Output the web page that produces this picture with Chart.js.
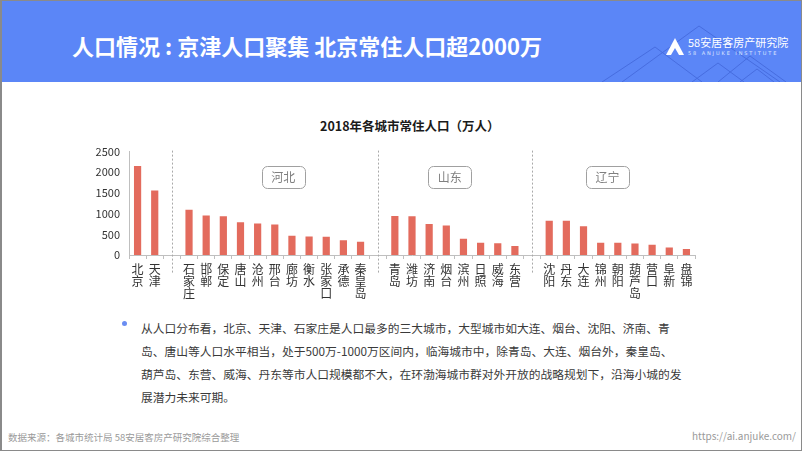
<!DOCTYPE html>
<html>
<head>
<meta charset="utf-8">
<script src="https://cdn.jsdelivr.net/npm/chart.js@4.4.1/dist/chart.umd.min.js"></script>
<style>
  html, body { margin: 0; padding: 0; }
  body { width: 802px; height: 451px; overflow: hidden; font-family: "Noto Sans CJK SC", "Noto Sans", sans-serif; }
  #page { position: relative; width: 802px; height: 451px; box-sizing: border-box; border: 1px solid #8a8a8a; border-left-width: 2px; background: #fff; overflow: hidden; }
  #header { position: absolute; left: 0; top: 0; width: 802px; height: 81px; background: #5b86f7; }
  #header h1 { position: absolute; left: 70px; top: 31px; margin: 0; font-size: 22px; line-height: 26px; font-weight: 700; color: #fff; white-space: nowrap; }
  #header svg { position: absolute; left: 0; top: 0; }
  .logo-cn { position: absolute; left: 686px; top: 35px; font-size: 11px; line-height: 13px; color: #fff; white-space: nowrap; }
  .logo-en { position: absolute; left: 686px; top: 49px; font-size: 5px; line-height: 6px; color: #dfe7ff; letter-spacing: 1.9px; white-space: nowrap; font-family: "DejaVu Sans", sans-serif; }
  #chartTitle { position: absolute; left: 318px; top: 116px; font-size: 12.5px; line-height: 18px; font-weight: 700; color: #1a1a1a; white-space: nowrap; }
  #chart { position: absolute; left: 60px; top: 135px; }
  #bullet { position: absolute; left: 120px; top: 320px; width: 5px; height: 5px; border-radius: 50%; background: #6a8df2; }
  #text { position: absolute; left: 139px; top: 315px; font-size: 11.75px; line-height: 23px; color: #3a3a3a; white-space: nowrap; }
  #source { position: absolute; left: 6px; top: 429px; font-size: 9.5px; line-height: 14px; color: #9a9a9a; white-space: nowrap; }
  #url { position: absolute; right: 5px; top: 428px; font-size: 10px; line-height: 14px; color: #9a9a9a; white-space: nowrap; }
</style>
</head>
<body>
<div id="page">
  <div id="header">
    <svg width="802" height="81">
      <g stroke="#3f63d6" stroke-width="1" fill="none" opacity="0.7">
        <polyline points="620,81 697,25 778,81"/>
        <polyline points="600,81 653,46 700,81"/>
        <polyline points="690,81 716,62 742,81"/>
        <polyline points="716,81 748,55 784,81"/>
        <polyline points="738,81 755,68 772,81"/>
      </g>
      <path d="M664,54 L673,37 L682,54 Z" fill="#fff"/>
      <path d="M669,54 L673,47 L677,54 Z" fill="#5b86f7"/>
    </svg>
    <h1>人口情况 : 京津人口聚集 北京常住人口超2000万</h1>
    <div class="logo-cn">58安居客房产研究院</div>
    <div class="logo-en">58 ANJUKE INSTITUTE</div>
  </div>
  <div id="chartTitle">2018年各城市常住人口（万人）</div>
  <canvas id="chart" width="660" height="175"></canvas>
  <div id="bullet"></div>
  <div id="text">从人口分布看，北京、天津、石家庄是人口最多的三大城市，大型城市如大连、烟台、沈阳、济南、青<br>岛、唐山等人口水平相当，处于500万-1000万区间内，临海城市中，除青岛、大连、烟台外，秦皇岛、<br>葫芦岛、东营、威海、丹东等市人口规模都不大，在环渤海城市群对外开放的战略规划下，沿海小城的发<br>展潜力未来可期。</div>
  <div id="source">数据来源：各城市统计局 58安居客房产研究院综合整理</div>
  <div id="url">https://ai.anjuke.com/</div>
</div>
<script>
const jjCities = ['北京', '天津'];
const jjPop = [2154, 1560];
const hebeiCities = ['石家庄', '邯郸', '保定', '唐山', '沧州', '邢台', '廊坊', '衡水', '张家口', '承德', '秦皇岛'];
const hebeiPop = [1095, 954, 935, 794, 760, 737, 466, 447, 443, 358, 318];
const shandongCities = ['青岛', '潍坊', '济南', '烟台', '滨州', '日照', '威海', '东营'];
const shandongPop = [943, 938, 748, 712, 395, 295, 283, 220];
const liaoningCities = ['沈阳', '丹东', '大连', '锦州', '朝阳', '葫芦岛', '营口', '阜新', '盘锦'];
const liaoningPop = [830, 830, 695, 298, 298, 276, 245, 184, 145];
const groupNames = ['河北', '山东', '辽宁'];
const yTicks = [0, 500, 1000, 1500, 2000, 2500];

const FONT = '"Noto Sans CJK SC", "Noto Sans", sans-serif';

// one empty slot between provinces, holds the dashed separator
const cityGroups = [jjCities, hebeiCities, shandongCities, liaoningCities];
const popGroups = [jjPop, hebeiPop, shandongPop, liaoningPop];
const labels = [];
const values = [];
const gapIndex = [];
const groupRange = [];
cityGroups.forEach((g, gi) => {
    if (gi > 0) {
        gapIndex.push(labels.length);
        labels.push('');
        values.push(null);
    }
    const start = labels.length;
    g.forEach((c, i) => {
        labels.push(c.split(''));
        values.push(popGroups[gi][i]);
    });
    groupRange.push([start, labels.length - 1]);
});

// label box shift (in slots) from the group centre
const boxShift = [0.5, -0.3, -0.6];

const provinceMarks = {
    id: 'provinceMarks',
    afterDraw(chart) {
        const {ctx, chartArea, scales: {x}} = chart;
        ctx.save();
        ctx.strokeStyle = '#a9a9a9';
        ctx.lineWidth = 1;
        ctx.setLineDash([2, 2]);
        gapIndex.forEach(i => {
            const px = Math.round(x.getPixelForValue(i)) + 0.5;
            ctx.beginPath();
            ctx.moveTo(px, chartArea.top - 1);
            ctx.lineTo(px, chartArea.bottom + 19);
            ctx.stroke();
        });
        ctx.setLineDash([]);
        ctx.font = '12px ' + FONT;
        ctx.textAlign = 'center';
        ctx.textBaseline = 'middle';
        groupNames.forEach((name, k) => {
            const [a, b] = groupRange[k + 1];
            const cx = x.getPixelForValue((a + b) / 2 + boxShift[k]);
            const cy = chartArea.top + 25;
            const w = 43, h = 22;
            ctx.beginPath();
            ctx.roundRect(Math.round(cx - w / 2) + 0.5, Math.round(cy - h / 2) + 0.5, w, h, 5);
            ctx.strokeStyle = '#a0a0a0';
            ctx.stroke();
            ctx.fillStyle = '#808080';
            ctx.fillText(name, cx, cy + 1);
        });
        ctx.restore();
    }
};

new Chart(document.getElementById('chart'), {
    type: 'bar',
    data: {
        labels: labels,
        datasets: [{
            data: values,
            backgroundColor: '#e36b5d',
            barPercentage: 0.42,
            categoryPercentage: 1,
        }]
    },
    options: {
        responsive: false,
        animation: false,
        layout: { padding: { top: 10, right: 27, left: 0, bottom: 0 } },
        plugins: {
            legend: { display: false },
            tooltip: { enabled: false },
        },
        scales: {
            x: {
                grid: { display: true, drawOnChartArea: false, drawTicks: true, tickLength: 4, color: '#bfbfbf', offset: true },
                border: { color: '#bfbfbf' },
                ticks: {
                    autoSkip: false, maxRotation: 0, minRotation: 0, padding: 4,
                    color: '#333', font: { family: FONT, size: 12, lineHeight: 1 },
                },
                afterFit: s => { s.height = 56; },
            },
            y: {
                min: 0,
                max: 2500,
                afterBuildTicks: s => { s.ticks = yTicks.map(v => ({ value: v })); },
                grid: { display: false, drawTicks: false },
                border: { color: '#bfbfbf' },
                ticks: {
                    padding: 9, color: '#333', font: { family: FONT, size: 11 },
                    callback: v => String(v),
                },
                afterFit: s => { s.width = 67; },
            }
        }
    },
    plugins: [provinceMarks]
});
</script>
</body>
</html>
